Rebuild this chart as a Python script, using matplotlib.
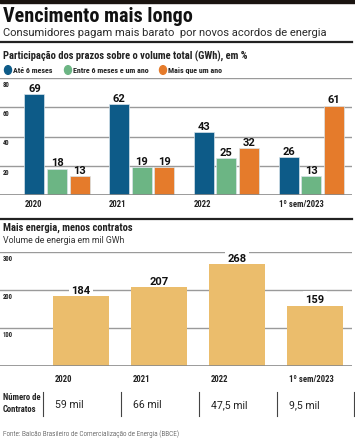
import numpy as np
import matplotlib
matplotlib.use("Agg")
import matplotlib.pyplot as plt
from matplotlib.lines import Line2D

# Data
periods = ["2020", "2021", "2022", "1º sem/2023"]
series_names = ["Até 6 meses", "Entre 6 meses e um ano", "Mais que um ano"]
ate_6_meses = [69, 62, 43, 26]
entre_6_e_1_ano = [18, 19, 25, 13]
mais_1_ano = [13, 19, 32, 61]
volume_mil_gwh = [184, 207, 268, 159]
contratos = ["59 mil", "66 mil", "47,5 mil", "9,5 mil"]

colors = ["#0d5b88", "#6cb584", "#e57b2b"]
bar_gold = "#ebbd6c"
grid_gray = "#9a9a9a"

W, H = 355, 439
fig = plt.figure(figsize=(W / 100, H / 100), dpi=100)


def fx(x):
    return x / W


def fy(y):
    return 1 - y / H


def ftext(x, y, s, **kw):
    fig.text(fx(x), fy(y), s, **kw)


def hline(y, x0, x1, lw, color):
    fig.add_artist(Line2D([fx(x0), fx(x1)], [fy(y), fy(y)], lw=lw, color=color,
                          transform=fig.transFigure))


def vline(x, y0, y1, lw, color):
    fig.add_artist(Line2D([fx(x), fx(x)], [fy(y0), fy(y1)], lw=lw, color=color,
                          transform=fig.transFigure))


COND = ["Roboto Condensed", "DejaVu Sans"]
SANS = ["Roboto", "DejaVu Sans"]

# Header
fig.add_artist(plt.Rectangle((0, fy(4)), 1, 4 / H, color="#1a1410", transform=fig.transFigure))
ftext(3, 22, "Vencimento mais longo", family=COND, weight="black", fontsize=14.5,
      va="baseline", color="#111111")
ftext(3, 35.5, "Consumidores pagam mais barato  por novos acordos de energia", family=SANS,
      weight="normal", fontsize=8.0, va="baseline", color="#2a2a2a")
hline(43, 0, 352, 1.6, "#222222")
ftext(3, 60, "Participação dos prazos sobre o volume total (GWh), em %", family=COND,
      weight="bold", fontsize=7.6, va="baseline", color="#222222")

# Legend
leg_x = [8, 68, 163]
for lx, name, c in zip(leg_x, series_names, colors):
    fig.add_artist(plt.Circle((fx(lx), fy(71)), 3.5 / W, color=c, transform=fig.transFigure))
    ftext(lx + 5, 71, name, family=COND, weight="bold", fontsize=5.8, va="center",
          color="#222222")

# Top chart: share by term
ax1 = fig.add_axes([0, fy(196), fx(352), (196 - 79) / H])
x = np.arange(len(periods))
bw = 0.236
off = 0.266
for i, (vals, c) in enumerate(zip([ate_6_meses, entre_6_e_1_ano, mais_1_ano], colors)):
    pos = x + (i - 1) * off
    ax1.bar(pos, vals, width=bw, color=c, edgecolor="#d8e4ea", linewidth=0.5, zorder=3)
    for p, v in zip(pos, vals):
        ax1.text(p, v + 1.0, str(v), ha="center", va="bottom", family=SANS,
                 weight="bold", fontsize=8, color="#111111", zorder=4)
ax1.set_xlim(-57 / 84.7, 295 / 84.7)
ax1.set_ylim(0, 80)
for t in [20, 40, 60, 80]:
    ax1.axhline(t, color=grid_gray, lw=1.0, zorder=1)
    ax1.text(-57 / 84.7 + 0.035, t - 1.3, str(t), ha="left", va="top", family=COND,
             weight="bold", fontsize=4.8, color="#222222")
ax1.axhline(0, color="#8a8a8a", lw=1.2, zorder=4)
for xi, lab in zip(x, periods):
    ax1.text(xi - off - bw / 2, -2.5, lab, ha="left", va="top", family=COND,
             weight="bold", fontsize=6.2, color="#222222")
ax1.axis("off")

# Bottom section header
hline(220, 0, 352, 1.6, "#222222")
ftext(3, 231, "Mais energia, menos contratos", family=COND, weight="bold", fontsize=7.6,
      va="baseline", color="#222222")
ftext(3, 243, "Volume de energia em mil GWh", family=SANS, weight="normal", fontsize=6.3,
      va="baseline", color="#333333")

# Bottom chart: volume
ax2 = fig.add_axes([0, fy(367), fx(352), (367 - 253) / H])
ax2.bar(x, volume_mil_gwh, width=0.718, color=bar_gold, zorder=5)
ax2.set_xlim(-81 / 78, 271 / 78)
ax2.set_ylim(0, 300)
for t in [100, 200, 300]:
    ax2.axhline(t, color=grid_gray, lw=1.0, zorder=1)
    ax2.text(-81 / 78 + 0.035, t - 5, str(t), ha="left", va="top", family=COND,
             weight="bold", fontsize=4.8, color="#222222")
ax2.axhline(0, color="#8a8a8a", lw=1.2, zorder=6)
for xi, v in zip(x, volume_mil_gwh):
    ax2.text(xi, v + 4, str(v), ha="center", va="bottom", family=SANS, weight="bold",
             fontsize=8, color="#111111", zorder=4,
             bbox=dict(boxstyle="square,pad=0.25", fc="white", ec="none"))
for xi, lab in zip(x, periods):
    ax2.text(xi - 0.718 / 2 + 0.02, -22, lab, ha="left", va="top", family=COND,
             weight="bold", fontsize=6.2, color="#222222")
ax2.axis("off")

# Contracts table
ftext(3, 398, "Número de", family=COND, weight="bold", fontsize=6.2, va="center",
      color="#222222")
ftext(3, 410, "Contratos", family=COND, weight="bold", fontsize=6.2, va="center",
      color="#222222")
for sx in [43, 121, 199, 277, 354]:
    vline(sx, 393, 417, 0.8, "#444444")
for xi, lab in zip(x, contratos):
    px = 81 + xi * 78 - 26
    ftext(px, 405, lab, family=SANS, weight="normal", fontsize=7.6, va="center",
          color="#222222")

ftext(3, 434, "Fonte: Balcão Brasileiro de Comercialização de Energia (BBCE)", family=COND,
      weight="light", fontsize=5.2, va="center", color="#333333")

fig.savefig("out.png", dpi=100)
